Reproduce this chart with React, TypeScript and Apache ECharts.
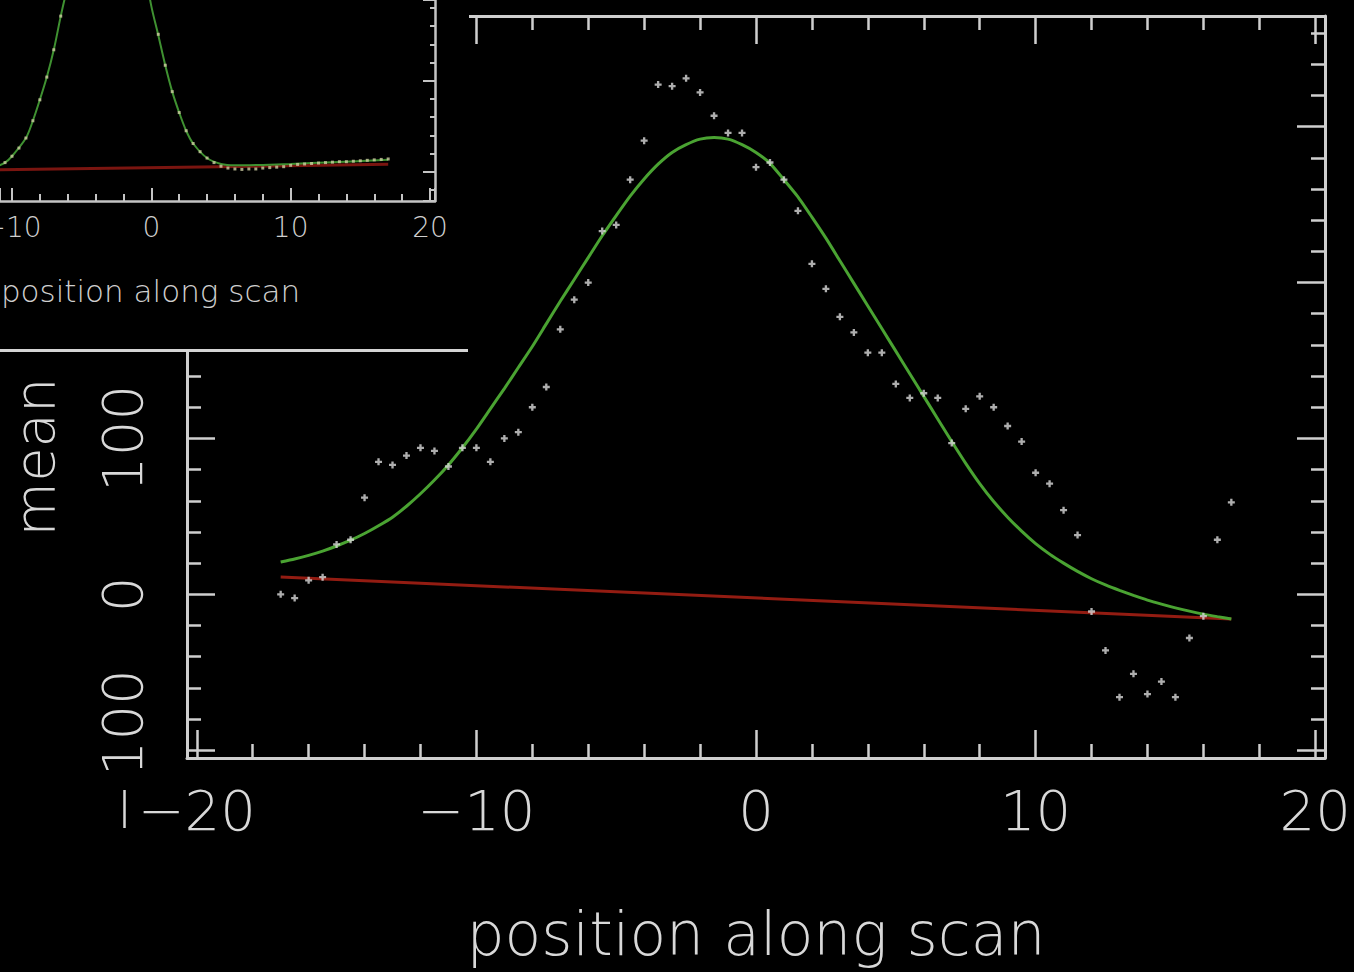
import React, { useEffect, useRef } from "react";
import * as echarts from "echarts";

// ---------- main panel data ----------
const POS = [
  -17, -16.5, -16, -15.5, -15, -14.5, -14, -13.5, -13, -12.5, -12, -11.5, -11, -10.5, -10, -9.5, -9, -8.5,
  -8, -7.5, -7, -6.5, -6, -5.5, -5, -4.5, -4, -3.5, -3, -2.5, -2, -1.5, -1, -0.5, 0, 0.5, 1, 1.5, 2, 2.5,
  3, 3.5, 4, 4.5, 5, 5.5, 6, 6.5, 7, 7.5, 8, 8.5, 9, 9.5, 10, 10.5, 11, 11.5, 12, 12.5, 13, 13.5, 14,
  14.5, 15, 15.5, 16, 16.5, 17,
];
const MEAN = [
  0, -2.4, 9, 11, 32, 35, 62, 85, 83, 89, 94, 92, 82, 94, 94, 85, 100, 104, 120, 133, 170, 189, 200, 233,
  237, 266, 291, 327, 326, 331, 322, 307, 296, 296, 274, 277, 266, 246, 212, 196, 178, 168, 155, 155, 135,
  126, 129, 126, 97, 119, 127, 120, 108, 98, 78, 71, 54, 38, -11, -36, -66, -51, -64, -56, -66, -28, -14,
  35, 59,
];
// fitted curve, read at the same positions as the data
const FIT = [
  20.7, 22.7, 25, 27.7, 31, 34.7, 39, 44, 49.5, 56.5, 64.5, 73.3, 83, 94, 106, 119, 132, 145.5, 159,
  173.5, 188, 202, 216, 230, 243, 255.5, 266.5, 276, 283.5, 288.5, 292, 293, 292, 288.5, 283.5, 276.5,
  266, 255, 242, 228.5, 214, 199.5, 185, 170.5, 156, 141.5, 127, 112.5, 98, 84, 71, 59.5, 49.5, 40.5,
  32.5, 25.8, 20, 14.7, 10, 6, 2.5, -0.7, -3.7, -6.3, -8.7, -10.8, -12.7, -14.3, -15.8,
];
const BASE_X = [-17, 17];
const BASE_Y = [11.1, -15.8];

const X_TICKS = [-20, -10, 0, 10, 20];
const X_TICK_TEXT = ["\u221220", "\u221210", "0", "10", "20"];
const Y_TICKS = [-100, 0, 100];
const Y_TICK_TEXT = ["{lo|100}", "0", "100"];

// ---------- inset panel data ----------
const INSET_FIT_X = [
  -17, -14, -12, -11, -10.5, -10, -9, -8.5, -8, -7.5, -7, -6.5, -6, -5, -3.2, -1.5, 0, 0.5, 1, 1.5, 2,
  2.5, 3, 4, 5, 6, 8, 10, 13, 17,
];
const INSET_FIT_Y = [
  1.5, 2.5, 4, 6.5, 10, 17, 37, 56, 79, 104, 134, 171, 205, 280, 340, 300, 182, 150, 117, 88, 65, 45, 31,
  15, 8.5, 7, 7.5, 8.5, 10.5, 13,
];
const INSET_BASE_X = [-17, 17];
const INSET_BASE_Y = [0.7, 8.1];
const INSET_DOT_X = [
  -10.5, -10, -9.5, -9, -8.5, -8, -7.5, -7, -6.5, 0.5, 1, 1.5, 2, 2.5, 3, 3.5, 4, 4.5, 5, 5.5, 6, 6.5,
  7, 7.5, 8, 8.5, 9, 9.5, 10, 10.5, 11, 11.5, 12, 12.5, 13, 13.5, 14, 14.5, 15, 15.5, 16, 16.5, 17,
];
const INSET_DOT_Y = [
  10, 17, 26, 37, 56, 79, 104, 134, 171, 151, 117, 88, 65, 45, 31, 22, 15, 10, 6, 4, 3, 2.5, 3, 3, 4,
  4.5, 5, 5.5, 7, 8, 8.5, 9, 9.5, 10, 10.5, 11, 11, 11.5, 12, 12.5, 13, 13.5, 14,
];
const INSET_X_TICKS = [-10, 0, 10, 20];
const INSET_X_TEXT = ["\u221210", "0", "10", "20"];

const AXIS_COLOR = "#cfcfcf";
const TEXT_COLOR = "#d8d8d8";
const FONT = "DejaVu Sans";

function pick(ticks: number[], texts: string[], v: number) {
  for (let i = 0; i < ticks.length; i++) if (Math.abs(ticks[i] - v) < 1e-6) return texts[i];
  return "";
}

export default function App() {
  const ref = useRef<HTMLDivElement>(null);
  useEffect(() => {
    document.body.style.margin = "0";
    document.body.style.background = "#000";
    const chart = echarts.init(ref.current!, null, { renderer: "svg" });
    const line = { color: AXIS_COLOR, width: 3 };
    const tickStyle = { color: AXIS_COLOR, width: 2.5 };
    const mainX = (pos: "bottom" | "top", labels: boolean) => ({
      type: "value",
      gridIndex: 0,
      position: pos,
      min: -20.35,
      max: 20.35,
      splitNumber: 4,
      z: 1,
      axisLine: { show: true, onZero: false, lineStyle: line },
      axisTick: { show: true, inside: true, length: 28, lineStyle: tickStyle },
      minorTick: { show: true, splitNumber: 5, length: 14, lineStyle: tickStyle },
      splitLine: { show: false },
      axisLabel: labels
        ? {
            show: true,
            margin: 24,
            fontSize: 56,
            fontFamily: FONT,
            fontWeight: 200,
            color: TEXT_COLOR,
            formatter: (v: number) => pick(X_TICKS, X_TICK_TEXT, v),
          }
        : { show: false },
      ...(labels
        ? {
            name: "position along scan",
            nameLocation: "middle",
            nameGap: 146,
            nameTextStyle: { fontSize: 60, fontFamily: FONT, fontWeight: 200, color: TEXT_COLOR },
          }
        : {}),
    });
    const mainY = (pos: "left" | "right", labels: boolean) => ({
      type: "value",
      gridIndex: 0,
      position: pos,
      min: -105,
      max: 371,
      splitNumber: 5,
      z: 1,
      axisLine: { show: true, onZero: false, lineStyle: line },
      axisTick: { show: true, inside: true, length: 28, lineStyle: tickStyle },
      minorTick: { show: true, splitNumber: 5, length: 14, lineStyle: tickStyle },
      splitLine: { show: false },
      axisLabel: labels
        ? {
            show: true,
            rotate: 90,
            margin: 37,
            fontSize: 56,
            fontFamily: FONT,
            fontWeight: 200,
            color: TEXT_COLOR,
            formatter: (v: number) => pick(Y_TICKS, Y_TICK_TEXT, v),
            rich: {
              lo: {
                fontSize: 56,
                fontFamily: FONT,
                fontWeight: 200,
                color: TEXT_COLOR,
                padding: [0, 0, 0, 55],
              },
            },
          }
        : { show: false },
      ...(labels
        ? {
            name: "mean",
            nameLocation: "middle",
            nameRotate: 90,
            nameGap: 125,
            nameTextStyle: {
              fontSize: 56,
              fontFamily: FONT,
              fontWeight: 200,
              color: TEXT_COLOR,
              padding: [0, 140, 0, 0],
            },
          }
        : {}),
    });

    const insetTick = { color: "#c4c4c4", width: 2 };
    const option: any = {
      animation: false,
      backgroundColor: "#000",
      grid: [
        { left: 187, right: 29, top: 16, bottom: 214, outerBoundsMode: "none", containLabel: false },
        { left: 0, right: 919, top: 0, height: 201, outerBoundsMode: "none", containLabel: false },
      ],
      xAxis: [
        mainX("bottom", true),
        mainX("top", false),
        {
          type: "value",
          gridIndex: 1,
          position: "bottom",
          min: -10.86,
          max: 20.36,
          splitNumber: 3,
          z: 60,
          axisLine: { show: true, onZero: false, lineStyle: { color: "#c4c4c4", width: 2.5 } },
          axisTick: { show: true, inside: true, length: 13, lineStyle: insetTick },
          minorTick: { show: true, splitNumber: 5, length: 7, lineStyle: insetTick },
          splitLine: { show: false },
          axisLabel: {
            show: true,
            margin: 12,
            fontSize: 28,
            fontFamily: FONT,
            fontWeight: 200,
            color: "#cfcfcf",
            showMinLabel: true,
            formatter: (v: number) => pick(INSET_X_TICKS, INSET_X_TEXT, v),
          },
          name: "position along scan",
          nameLocation: "middle",
          nameGap: 74,
          nameTextStyle: {
            fontSize: 31,
            fontFamily: FONT,
            fontWeight: 200,
            color: "#cfcfcf",
            padding: [0, 134, 0, 0],
          },
        },
      ],
      yAxis: [
        mainY("left", true),
        mainY("right", false),
        {
          type: "value",
          gridIndex: 1,
          position: "right",
          min: -32.2,
          max: 188.7,
          splitNumber: 2,
          z: 60,
          axisLine: { show: true, onZero: false, lineStyle: { color: "#c4c4c4", width: 2.5 } },
          axisTick: { show: true, inside: true, length: 12, lineStyle: insetTick },
          minorTick: { show: true, splitNumber: 5, length: 5, lineStyle: insetTick },
          splitLine: { show: false },
          axisLabel: { show: false },
        },
      ],
      graphic: [
        {
          type: "rect",
          left: 0,
          top: 0,
          z: 50,
          shape: { width: 469, height: 349 },
          style: { fill: "#000" },
        },
        {
          type: "line",
          z: 51,
          shape: { x1: 0, y1: 350.5, x2: 468, y2: 350.5 },
          style: { stroke: "#d4d4d4", lineWidth: 3 },
        },
        {
          type: "line",
          z: 51,
          shape: { x1: 124.5, y1: 790, x2: 124.5, y2: 828 },
          style: { stroke: TEXT_COLOR, lineWidth: 2.5 },
        },
      ],
      series: [
        {
          name: "baseline",
          type: "line",
          xAxisIndex: 0,
          yAxisIndex: 0,
          data: BASE_X.map((x, i) => [x, BASE_Y[i]]),
          showSymbol: false,
          lineStyle: { color: "#931c12", width: 3 },
          z: 3,
        },
        {
          name: "fit",
          type: "line",
          xAxisIndex: 0,
          yAxisIndex: 0,
          data: POS.map((x, i) => [x, FIT[i]]),
          smooth: 0.2,
          showSymbol: false,
          lineStyle: { color: "#4aa332", width: 3 },
          z: 4,
        },
        {
          name: "mean",
          type: "scatter",
          xAxisIndex: 0,
          yAxisIndex: 0,
          data: POS.map((x, i) => [x, MEAN[i]]),
          symbol: "path://M2 0H4V2H6V4H4V6H2V4H0V2H2Z",
          symbolSize: 7,
          itemStyle: { color: "#dadada" },
          z: 5,
        },
        {
          name: "inset baseline",
          type: "line",
          xAxisIndex: 2,
          yAxisIndex: 2,
          data: INSET_BASE_X.map((x, i) => [x, INSET_BASE_Y[i]]),
          showSymbol: false,
          lineStyle: { color: "#7a1510", width: 3 },
          z: 60,
        },
        {
          name: "inset fit",
          type: "line",
          xAxisIndex: 2,
          yAxisIndex: 2,
          data: INSET_FIT_X.map((x, i) => [x, INSET_FIT_Y[i]]),
          smooth: 0.3,
          showSymbol: false,
          lineStyle: { color: "#3f9131", width: 2 },
          z: 61,
        },
        {
          name: "inset points",
          type: "scatter",
          xAxisIndex: 2,
          yAxisIndex: 2,
          data: INSET_DOT_X.map((x, i) => [x, INSET_DOT_Y[i]]),
          symbol: "rect",
          symbolSize: 3,
          itemStyle: { color: "#cdcda0" },
          z: 62,
        },
      ],
    };
    chart.setOption(option);
    return () => chart.dispose();
  }, []);
  return (
    <div
      ref={ref}
      style={{ position: "fixed", left: 0, top: 0, width: 1354, height: 972, background: "#000" }}
    />
  );
}
